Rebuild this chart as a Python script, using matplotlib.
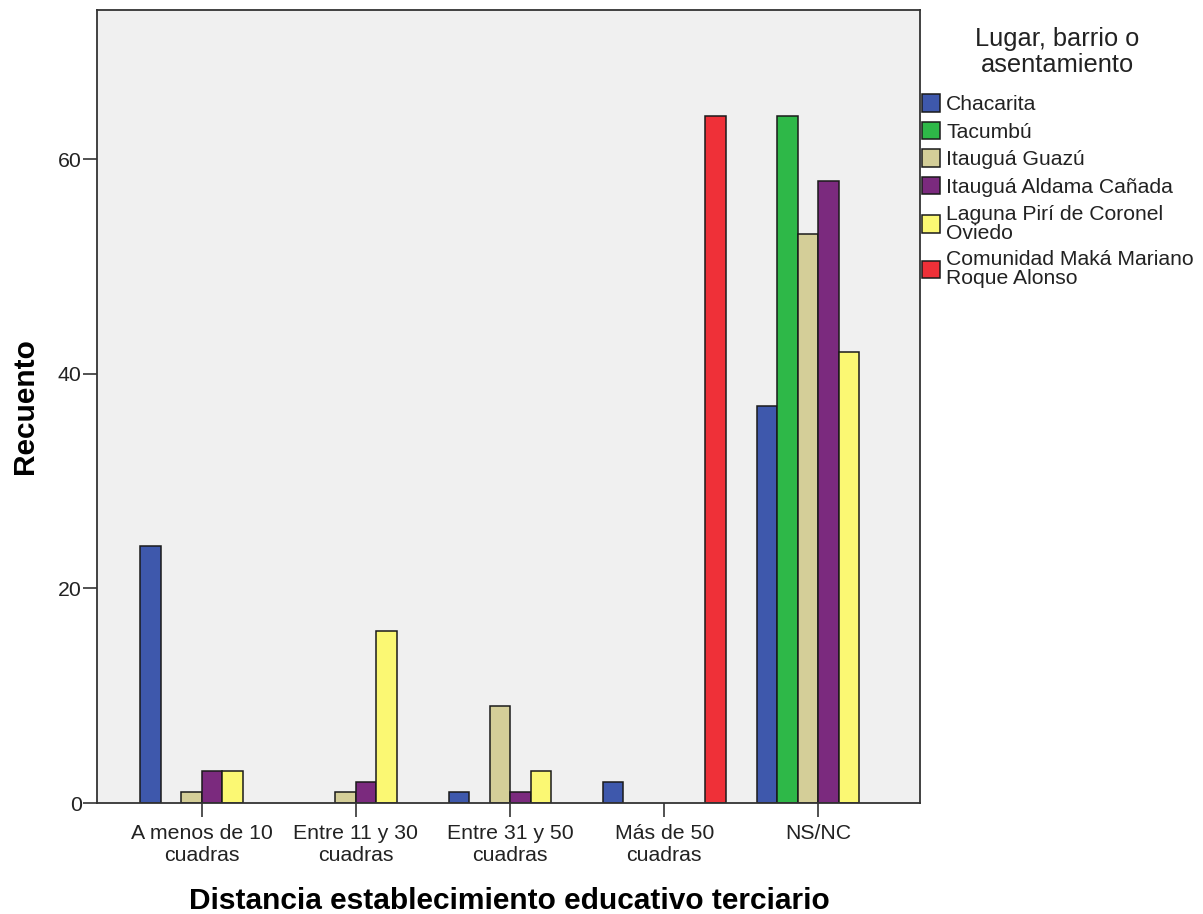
import numpy as np
import matplotlib
matplotlib.use('Agg')
from matplotlib import pyplot as plt

plt.rcParams['font.family'] = ['Liberation Sans', 'DejaVu Sans']

# Data
categories = ['A menos de 10\ncuadras', 'Entre 11 y 30\ncuadras', 'Entre 31 y 50\ncuadras',
              'Más de 50\ncuadras', 'NS/NC']
series = ['Chacarita', 'Tacumbú', 'Itauguá Guazú', 'Itauguá Aldama Cañada',
          'Laguna Pirí de Coronel\nOviedo', 'Comunidad Maká Mariano\nRoque Alonso']
chacarita = [24, 0, 1, 2, 37]
tacumbu = [0, 0, 0, 0, 64]
itaugua_guazu = [1, 1, 9, 0, 53]
itaugua_aldama = [3, 2, 1, 0, 58]
laguna_piri = [3, 16, 3, 0, 42]
comunidad_maka = [0, 0, 0, 64, 0]
colors = ['#3E58AC', '#2EB848', '#D4CE98', '#7B2A7E', '#FBF873', '#EF3038']

values = [chacarita, tacumbu, itaugua_guazu, itaugua_aldama, laguna_piri, comunidad_maka]

fig = plt.figure(figsize=(12.03, 9.14), dpi=100)
ax = fig.add_axes([0.0806, 0.1214, 0.6842, 0.8676])
ax.set_facecolor('#F0F0F0')

x = np.arange(len(categories))
width = 0.133
for i, (name, vals, c) in enumerate(zip(series, values, colors)):
    pos = x + (i - 2.5) * width
    vals = np.array(vals, dtype=float)
    mask = vals > 0
    ax.bar(pos[mask], vals[mask], width=width, color=c, edgecolor='#1a1a1a', linewidth=1.1)
    # legend handle
    ax.bar([np.nan], [np.nan], width=width, color=c, edgecolor='#1a1a1a', linewidth=1.1, label=name)

ax.set_xlim(-0.68, 4.66)
ax.set_ylim(0, 73.9)
ax.set_yticks([0, 20, 40, 60])
ax.set_xticks(x)
ax.set_xticklabels(categories, fontsize=15.3, linespacing=1.2)
ax.tick_params(axis='y', labelsize=15.3, length=10, width=1.2, color='#333333', pad=1, labelcolor='#222222')
ax.tick_params(axis='x', length=10, width=1.2, color='#333333', pad=5, labelcolor='#222222')
for s in ax.spines.values():
    s.set_color('#333333')
    s.set_linewidth(1.3)

ax.set_ylabel('Recuento', fontsize=21.5, fontweight='bold', va='center', ha='center')
ax.yaxis.set_label_coords(-0.088, 0.5)
ax.set_xlabel('Distancia establecimiento educativo terciario', fontsize=21.5, fontweight='bold',
              va='center', ha='center')
ax.xaxis.set_label_coords(0.501, -0.124)

# legend title drawn separately to control the gap
fig.text(1057 / 1203, 1 - 52 / 914, 'Lugar, barrio o\nasentamiento', fontsize=18.3,
         ha='center', va='center', multialignment='center', linespacing=1.08, color='#222222')

leg = ax.legend(loc='upper left', bbox_to_anchor=(922 / 1203, 1 - 94 / 914), bbox_transform=fig.transFigure,
                frameon=False, fontsize=15.2,
                handlelength=0.85, handleheight=0.9, handletextpad=0.3,
                labelspacing=0.36, borderaxespad=0, borderpad=0)
for t in leg.get_texts():
    t.set_linespacing(1.0)
    t.set_color('#222222')

fig.savefig('out.png', dpi=100)
